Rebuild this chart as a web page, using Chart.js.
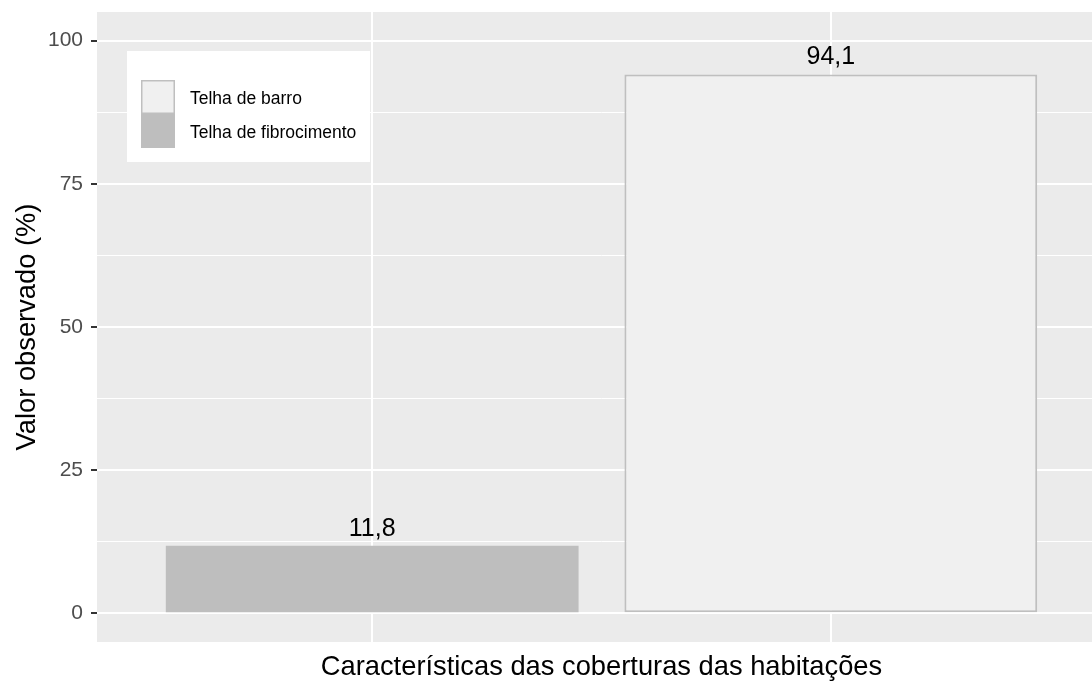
<!DOCTYPE html>
<html lang="pt">
<head>
<meta charset="utf-8">
<title>Coberturas das habitações</title>
<script src="https://cdn.jsdelivr.net/npm/chart.js@4/dist/chart.umd.min.js"></script>
<style>
    html, body { margin: 0; padding: 0; background: #fff; overflow: hidden; }
    canvas { display: block; }
</style>
</head>
<body>
<canvas id="roofChart" width="1106" height="684"></canvas>
<script>
// Data
const categories = ['Telha de fibrocimento', 'Telha de barro'];
const percentages = [11.8, 94.1];
const fillColors = ['#BEBEBE', '#F0F0F0'];
const edgeColors = ['#BEBEBE', '#BFBFBF'];
const edgeWidths = [0, 2];
const yMajorTicks = [0, 25, 50, 75, 100];
const yMinorTicks = [12.5, 37.5, 62.5, 87.5];

const FONT = '"Liberation Sans", Arial, sans-serif';
const PANEL_BG = '#EBEBEB';

// Grey panel behind the grid (ggplot-like)
const panelBackground = {
    id: 'panelBackground',
    beforeDraw(chart) {
        const { ctx, chartArea: a } = chart;
        ctx.save();
        ctx.fillStyle = PANEL_BG;
        ctx.fillRect(a.left, a.top, a.right - a.left, a.bottom - a.top);
        ctx.restore();
    }
};

// Value labels above the bars, with decimal comma
const valueLabels = {
    id: 'valueLabels',
    afterDatasetsDraw(chart) {
        const { ctx } = chart;
        const meta = chart.getDatasetMeta(0);
        ctx.save();
        ctx.font = '25px ' + FONT;
        ctx.fillStyle = '#000';
        ctx.textAlign = 'center';
        ctx.textBaseline = 'middle';
        meta.data.forEach((bar, i) => {
            const txt = percentages[i].toFixed(1).replace('.', ',');
            ctx.fillText(txt, bar.x, bar.y - 17);
        });
        ctx.restore();
    }
};

// Legend box inside the panel, top-left
const insideLegend = {
    id: 'insideLegend',
    afterDraw(chart) {
        const { ctx } = chart;
        const order = categories.map((c, i) => i)
            .sort((a, b) => categories[a].localeCompare(categories[b]));
        const boxX = 127, boxY = 51, boxW = 243, boxH = 111;
        const keyX = 141, keyY = 80, keySize = 34;
        ctx.save();
        ctx.fillStyle = '#fff';
        ctx.fillRect(boxX, boxY, boxW, boxH);
        ctx.font = '17.5px ' + FONT;
        ctx.textBaseline = 'middle';
        ctx.textAlign = 'left';
        order.forEach((idx, row) => {
            const y = keyY + row * keySize;
            ctx.fillStyle = fillColors[idx];
            ctx.fillRect(keyX, y, keySize, keySize);
            if (edgeWidths[idx] > 0) {
                ctx.strokeStyle = edgeColors[idx];
                ctx.lineWidth = 1.5;
                ctx.strokeRect(keyX + 0.75, y + 0.75, keySize - 1.5, keySize - 1.5);
            }
            ctx.fillStyle = '#000';
            ctx.fillText(categories[idx], 190, y + keySize / 2 + 2);
        });
        ctx.restore();
    }
};

const ctx = document.getElementById('roofChart').getContext('2d');
const chart = new Chart(ctx, {
    type: 'bar',
    data: {
        labels: categories,
        datasets: [{
            label: 'Valor observado (%)',
            data: percentages.map((v, i) => ({ x: i, y: v })),
            backgroundColor: fillColors,
            borderColor: edgeColors,
            borderWidth: edgeWidths,
            borderSkipped: false,
            barPercentage: 0.9,
            categoryPercentage: 1.0
        }]
    },
    options: {
        responsive: false,
        animation: false,
        layout: { padding: { top: 12, right: 0, bottom: 0, left: 0 } },
        plugins: {
            legend: { display: false },
            tooltip: { enabled: false }
        },
        scales: {
            x: {
                type: 'linear',
                min: -0.6,
                max: 1.6,
                offset: false,
                afterBuildTicks: (scale) => {
                    scale.ticks = categories.map((c, i) => ({ value: i }));
                },
                afterFit: (scale) => {
                    scale.height = 42;
                    scale.paddingLeft = 0;
                    scale.paddingRight = 0;
                },
                ticks: { display: false },
                grid: {
                    offset: false,
                    color: '#FFFFFF',
                    lineWidth: 2,
                    drawTicks: false
                },
                border: { display: false },
                title: {
                    display: true,
                    text: 'Características das coberturas das habitações',
                    color: '#000',
                    font: { family: FONT, size: 27.3 },
                    padding: { top: 0, bottom: 0 }
                }
            },
            y: {
                min: -5,
                max: 105,
                afterBuildTicks: (scale) => {
                    scale.ticks = yMajorTicks.concat(yMinorTicks)
                        .sort((a, b) => a - b)
                        .map(v => ({ value: v }));
                },
                afterFit: (scale) => {
                    scale.width = 97;
                    scale.paddingTop = 0;
                    scale.paddingBottom = 0;
                },
                ticks: {
                    color: '#4D4D4D',
                    font: { family: FONT, size: 21 },
                    padding: 8,
                    callback: (v) => yMajorTicks.includes(v) ? String(v) : ''
                },
                grid: {
                    color: '#FFFFFF',
                    lineWidth: (c) => yMajorTicks.includes(c.tick.value) ? 2 : 1,
                    tickColor: (c) => yMajorTicks.includes(c.tick.value) ? '#333333' : 'rgba(0,0,0,0)',
                    tickLength: 6,
                    drawTicks: true
                },
                border: { display: false },
                title: {
                    display: true,
                    text: 'Valor observado (%)',
                    color: '#000',
                    font: { family: FONT, size: 27.3 },
                    padding: { top: 11, bottom: 0 }
                }
            }
        }
    },
    plugins: [panelBackground, valueLabels, insideLegend]
});
</script>
</body>
</html>
